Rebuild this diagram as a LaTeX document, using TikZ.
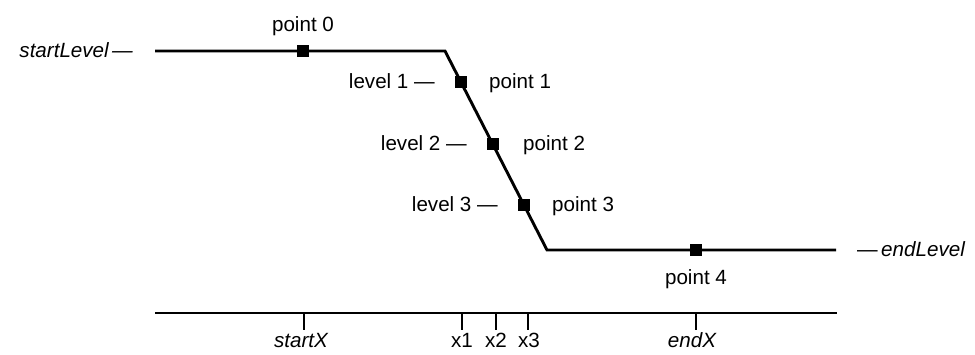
\documentclass[tikz,border=0pt]{standalone}
\usepackage{fontspec}
\setmainfont{Liberation Sans}
\begin{document}
\begin{tikzpicture}[x=1pt,y=-1pt,
  lbl/.style={inner sep=0pt, font=\fontsize{20.6}{24}\selectfont, anchor=base},
  mk/.style={fill=black, draw=none, inner sep=0pt, minimum size=12pt},
  curve/.style={line width=2.9pt, line join=miter},
  tickline/.style={line width=1.7pt}]
\useasboundingbox (0,0) rectangle (975,354);
% level curve
\coordinate (c0) at (155,51);
\coordinate (c1) at (445,51);
\coordinate (c2) at (547,250);
\coordinate (c3) at (836,250);
\draw[curve] (c0) -- (c1) -- (c2) -- (c3);
% markers
\node[mk] (p0) at (303,51) {};
\node[mk] (p1) at (461,82) {};
\node[mk] (p2) at (493,144) {};
\node[mk] (p3) at (524,205) {};
\node[mk] (p4) at (696,250) {};
% labels
\node[lbl, anchor=base east] (sl) at (133,57) {\itshape startLevel\,—};
\node[lbl, anchor=base west] (el) at (857,256) {—\,\itshape endLevel};
\node[lbl] (lp0) at (303,31) {point 0};
\node[lbl, anchor=base east] (lv1) at (435,88) {level 1 —};
\node[lbl, anchor=base west] (lp1) at (489,88) {point 1};
\node[lbl, anchor=base east] (lv2) at (467,150) {level 2 —};
\node[lbl, anchor=base west] (lp2) at (523,150) {point 2};
\node[lbl, anchor=base east] (lv3) at (498,211) {level 3 —};
\node[lbl, anchor=base west] (lp3) at (552,211) {point 3};
\node[lbl] (lp4) at (696,284) {point 4};
% axis
\coordinate (a0) at (155,313);
\coordinate (a1) at (837,313);
\draw[curve] (a0) -- (a1);
\coordinate (tsx) at (304,313);
\coordinate (tx1) at (462,313);
\coordinate (tx2) at (496,313);
\coordinate (tx3) at (528,313);
\coordinate (tex) at (696,313);
\foreach \t in {tsx,tx1,tx2,tx3,tex} \draw[tickline] (\t) -- ++(0,17);
\node[lbl] (lsx) at (301,347) {\itshape startX};
\node[lbl] (lx1) at (462,347) {x1};
\node[lbl] (lx2) at (496,347) {x2};
\node[lbl] (lx3) at (529,347) {x3};
\node[lbl] (lex) at (692,347) {\itshape endX};
\end{tikzpicture}
\end{document}
